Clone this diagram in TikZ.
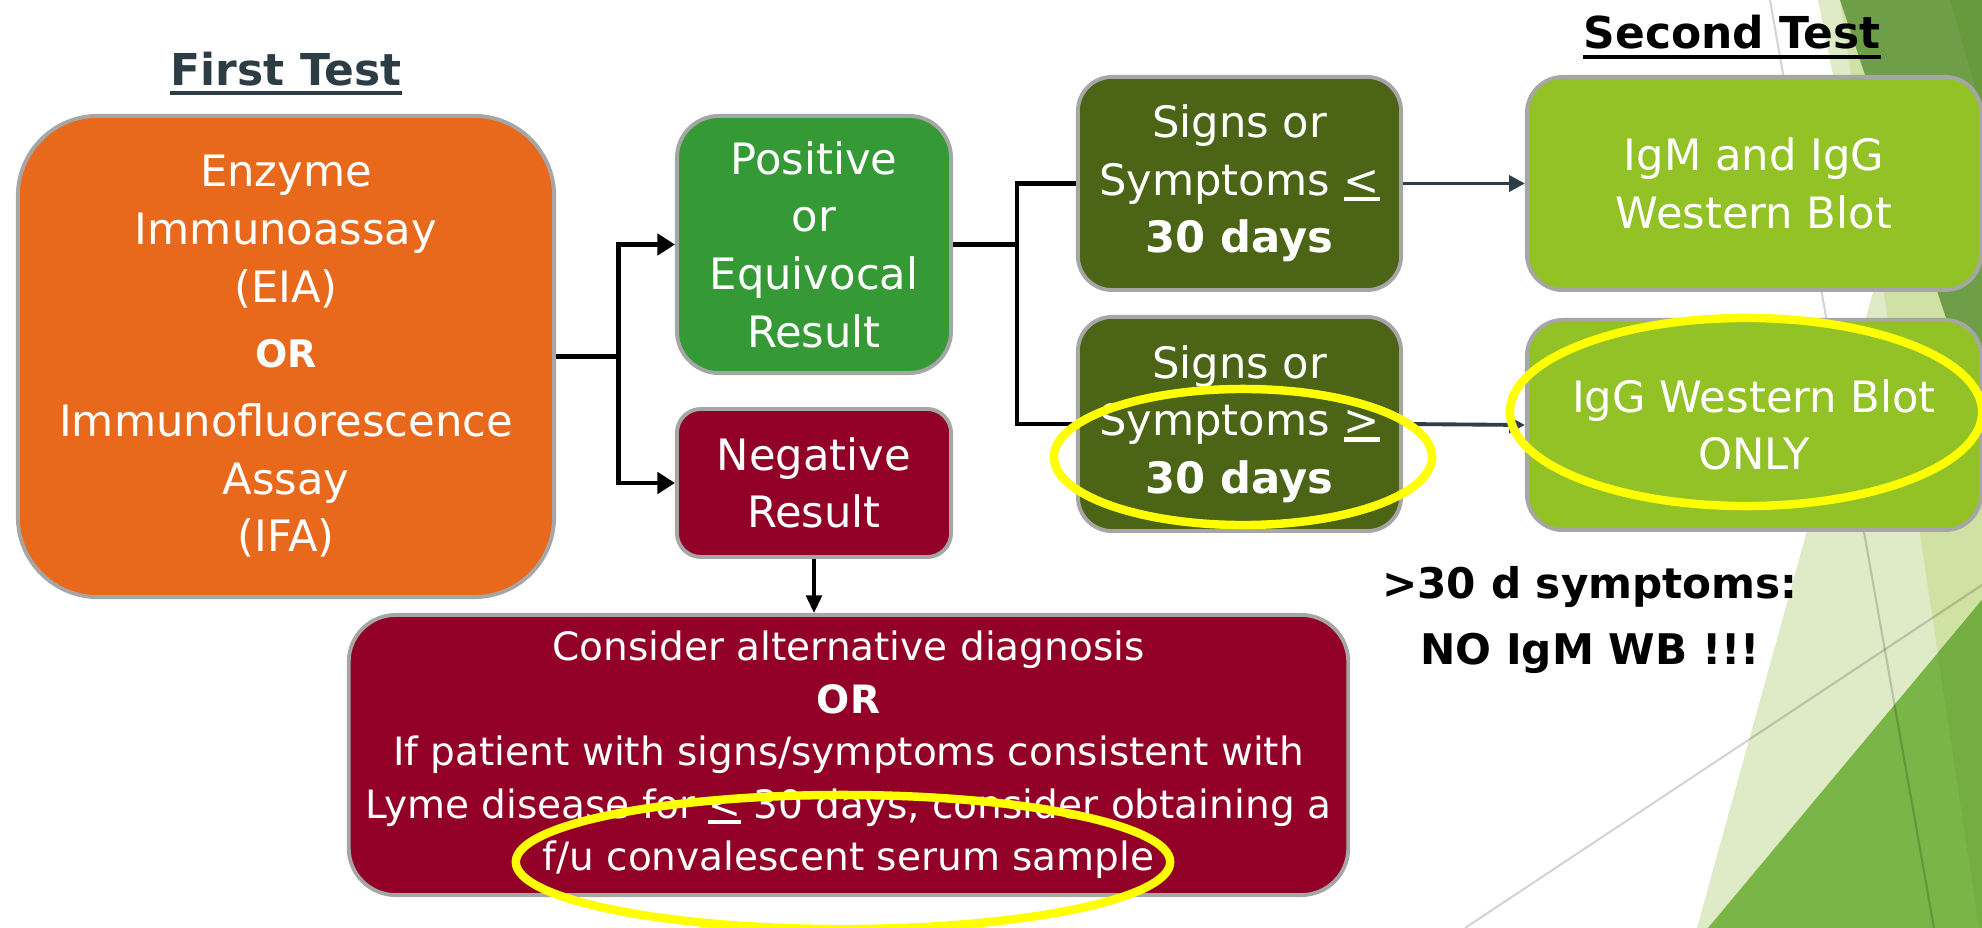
\documentclass[tikz,border=0pt]{standalone}
\usepackage{fontspec}
\setmainfont{DejaVu Sans}
\usetikzlibrary{arrows.meta}

\definecolor{eiaorange}{HTML}{E8691B}
\definecolor{posgreen}{HTML}{359A35}
\definecolor{negred}{HTML}{930027}
\definecolor{signolive}{HTML}{4B6416}
\definecolor{wblime}{HTML}{93C226}
\definecolor{boxgray}{HTML}{A6A6A6}
\definecolor{titleslate}{HTML}{2C3D45}
\definecolor{arrowslate}{HTML}{2E3D47}
\definecolor{hilite}{HTML}{FFFF00}
\definecolor{facetpale}{HTML}{DFEAC7}
\definecolor{facetlight}{HTML}{CFE1A3}
\definecolor{facetdark}{HTML}{6E9E48}
\definecolor{facetdeep}{HTML}{67993D}
\definecolor{facetbright}{HTML}{7AB547}
\definecolor{facetmix}{HTML}{74AE43}

\newcommand{\undersym}[1]{\settowidth{\dimen0}{#1}\rlap{\rule[-0.14em]{\dimen0}{0.1em}}#1}

\tikzset{
  box/.style={draw=boxgray, line width=1.1pt, align=center, text=white, inner sep=0pt},
  bigtext/.style={font=\fontsize{12.3}{16.4}\selectfont},
  smalltext/.style={font=\fontsize{11.1}{14.9}\selectfont},
  titletext/.style={font=\bfseries\fontsize{12.5}{15}\selectfont, inner sep=0pt, anchor=base},
  flow/.style={line width=1.4pt, -{Triangle[length=5pt,width=6pt]}},
  branch/.style={line width=1.4pt},
  thinflow/.style={line width=0.9pt, -{Triangle[length=5pt,width=4.5pt]}},
  wbflow/.style={arrowslate, line width=1.1pt, -{Triangle[length=4.5pt,width=4.5pt]}},
  circled/.style={draw=hilite, line width=2.4pt},
  facetline/.style={draw=black, opacity=0.17, line width=0.6pt}
}

\begin{document}
\begin{tikzpicture}[x=0.01cm, y=-0.01cm]
  \useasboundingbox (0,0) rectangle (1982,928);

  % background facets
  \fill[facetpale] (1818,0) -- (1875,285) -- (1697,928) -- (1982,928) -- (1982,0) -- cycle;
  \fill[facetlight] (1840,0) -- (1979,928) -- (1982,928) -- (1982,0) -- cycle;
  \fill[facetdark] (1840,0) -- (1982,426) -- (1982,0) -- cycle;
  \fill[facetdeep] (1950,0) -- (1982,110) -- (1982,0) -- cycle;
  \fill[facetbright] (1708,928) -- (1982,600) -- (1982,928) -- cycle;
  \fill[facetmix] (1937.6,653) -- (1982,600) -- (1982,928) -- (1979,928) -- cycle;
  \draw[facetline] (1770,0) -- (1934,928);
  \draw[facetline] (1465,928) -- (1982,585);

  % titles
  \node[titletext, text=titleslate] (first) at (286,86) {First Test};
  \draw[titleslate, line width=1.2pt] ([yshift=-0.07cm]first.base west) -- ([yshift=-0.07cm]first.base east);
  \node[titletext] (second) at (1732,49) {Second Test};
  \draw[line width=1.2pt] ([yshift=-0.08cm]second.base west) -- ([yshift=-0.08cm]second.base east);

  % first test
  \node[box, bigtext, fill=eiaorange, minimum width=5.36cm, minimum height=4.81cm, rounded corners=0.8cm] (eia) at (286,356.5)
    {Enzyme\\Immunoassay\\(EIA)\\[0.075cm]{\bfseries\fontsize{10.8}{16.4}\selectfont OR}\\[0.115cm]Immunofluorescence\\Assay\\(IFA)};
  \node[box, bigtext, fill=posgreen, minimum width=2.74cm, minimum height=2.57cm, rounded corners=0.42cm] (pos) at (814,244.5)
    {Positive\\or\\Equivocal\\Result};
  \node[box, bigtext, fill=negred, minimum width=2.74cm, minimum height=1.48cm, rounded corners=0.24cm] (neg) at (814,483)
    {Negative\\Result};
  \node[box, smalltext, fill=negred, minimum width=9.99cm, minimum height=2.80cm, rounded corners=0.47cm] (alt) at (848.5,755)
    {Consider alternative diagnosis\\\textbf{OR}\\If patient with signs/symptoms consistent with\\Lyme disease for \undersym{<} 30 days, consider obtaining a\\f/u convalescent serum sample};

  % symptom duration
  \node[box, bigtext, fill=signolive, minimum width=3.23cm, minimum height=2.13cm, rounded corners=0.34cm] (sle) at (1239.5,183.5)
    {Signs or\\Symptoms \undersym{<}\\\textbf{30 days}};
  \node[box, bigtext, fill=signolive, minimum width=3.23cm, minimum height=2.14cm, rounded corners=0.34cm] (sge) at (1239.5,424)
    {Signs or\\Symptoms \undersym{>}\\\textbf{30 days}};

  % second test
  \node[box, bigtext, fill=wblime, minimum width=4.54cm, minimum height=2.13cm, rounded corners=0.36cm] (igmg) at (1754,183.5)
    {IgM and IgG\\Western Blot};
  \node[box, bigtext, fill=wblime, minimum width=4.54cm, minimum height=2.10cm, rounded corners=0.36cm] (igg) at (1754,425)
    {IgG Western Blot\\ONLY};

  \node[font=\bfseries\fontsize{12}{18.5}\selectfont, align=center, inner sep=0pt] (warn) at (1590,620)
    {>30 d symptoms:\\NO IgM WB !!!};

  % connectors
  \draw[flow] (eia.east) -- ++(62,0) |- (pos.west);
  \draw[flow] (eia.east) -- ++(62,0) |- (neg.west);
  \draw[branch] (pos.east) -- ++(64,0) |- (sle.west);
  \draw[branch] (pos.east) -- ++(64,0) |- (sge.west);
  \draw[thinflow] (neg.south) -- (neg.south |- alt.north);
  \draw[wbflow] (sle.east) -- (igmg.west);
  \draw[wbflow] (sge.east) -- (igg.west);

  % highlights
  \draw[circled] (1243,457) ellipse [x radius=1.89cm, y radius=0.68cm];
  \draw[circled] (1746,412) ellipse [x radius=2.36cm, y radius=0.94cm];
  \draw[circled] (843,862) ellipse [x radius=3.27cm, y radius=0.67cm];
\end{tikzpicture}
\end{document}
